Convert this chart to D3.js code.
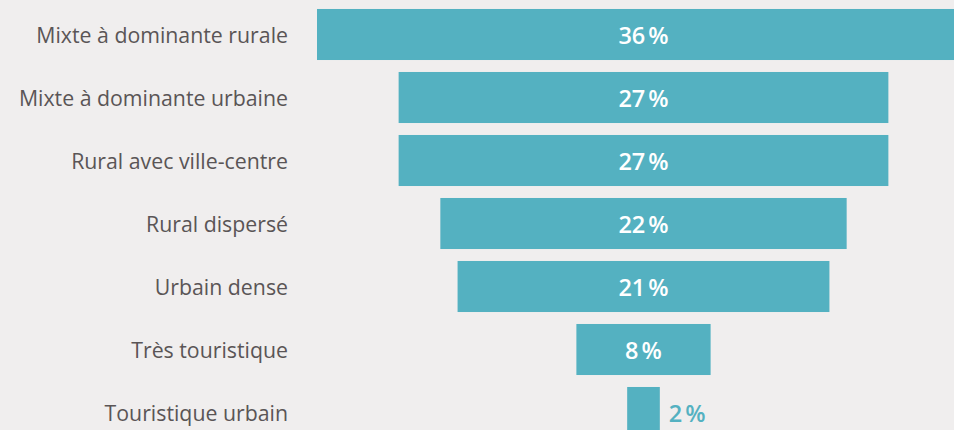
<!DOCTYPE html>
<html>
<head>
<meta charset="utf-8">
<script src="https://cdn.jsdelivr.net/npm/d3@7"></script>
<style>
  html, body { margin: 0; padding: 0; background: #f0eeee; }
  svg { display: block; }
</style>
</head>
<body>
<script>
const categories = [
  "Mixte à dominante rurale",
  "Mixte à dominante urbaine",
  "Rural avec ville-centre",
  "Rural dispersé",
  "Urbain dense",
  "Très touristique",
  "Touristique urbain"
];
const values = [36.0, 27.0, 27.0, 22.4, 20.5, 7.4, 1.8];
const valueLabels = ["36\u202F%", "27\u202F%", "27\u202F%", "22\u202F%", "21\u202F%", "8\u202F%", "2\u202F%"];

const W = 954, H = 430;
const centerX = 643.5;
const barColor = "#54b1c1";
const bg = "#f0eeee";

const svg = d3.select("body").append("svg").attr("width", W).attr("height", H);
svg.append("rect").attr("width", W).attr("height", H).attr("fill", bg);

const x = d3.scaleLinear().domain([0, 36]).range([0, 653]);
const y = d3.scaleBand().domain(categories).range([3, 444]).paddingInner(0.19).paddingOuter(0.095);

const rows = svg.selectAll("g.row").data(categories.map((c, i) => ({c, v: values[i], l: valueLabels[i]})))
  .join("g").attr("class", "row");

rows.append("rect")
  .attr("x", d => centerX - x(d.v) / 2)
  .attr("y", d => y(d.c))
  .attr("width", d => x(d.v))
  .attr("height", y.bandwidth())
  .attr("fill", barColor);

rows.append("text")
  .attr("x", 288)
  .attr("y", d => y(d.c) + y.bandwidth() / 2)
  .attr("dy", "0.41em")
  .attr("text-anchor", "end")
  .attr("font-family", "'Open Sans', 'Noto Sans', sans-serif")
  .attr("font-size", 21.3)
  .attr("fill", "#5a5556")
  .text(d => d.c);

rows.append("text")
  .attr("x", d => x(d.v) < 60 ? centerX + x(d.v) / 2 + 9 : centerX)
  .attr("y", d => y(d.c) + y.bandwidth() / 2)
  .attr("dy", "0.42em")
  .attr("text-anchor", d => x(d.v) < 60 ? "start" : "middle")
  .attr("font-family", "'Open Sans', 'Noto Sans', sans-serif")
  .attr("font-size", 23.5)
  .attr("font-weight", 600)
  .attr("fill", d => x(d.v) < 60 ? barColor : "#ffffff")
  .text(d => d.l);
</script>
</body>
</html>
